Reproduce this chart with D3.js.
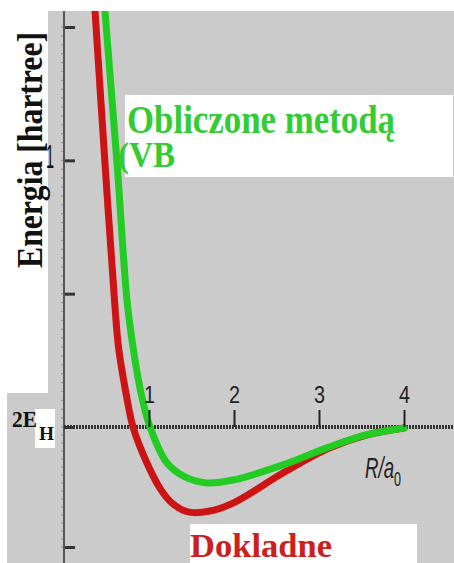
<!DOCTYPE html>
<html>
<head>
<meta charset="utf-8">
<script src="https://cdn.jsdelivr.net/npm/d3@7"></script>
<style>
  body { margin: 0; background: #fff; }
  svg { display: block; }
</style>
</head>
<body>
<div id="app"></div>
<script>
// R in units of a0, E in hartree relative to 2E_H
const exactR = [0.341, 0.365, 0.482, 0.594, 0.641, 0.729, 0.812, 0.976, 1.141, 1.271, 1.459, 1.718, 1.988, 2.576, 3.106, 3.565, 4.0];
const exactE = [1.676, 1.56, 0.99, 0.476, 0.30, 0.1275, 0, -0.15, -0.262, -0.317, -0.354, -0.35, -0.317, -0.192, -0.09, -0.033, -0.004];

const vbR = [0.459, 0.482, 0.624, 0.741, 0.812, 0.906, 1.012, 1.212, 1.424, 1.682, 1.988, 2.576, 3.106, 3.565, 4.0];
const vbE = [1.676, 1.56, 0.99, 0.476, 0.30, 0.1275, 0, -0.15, -0.208, -0.233, -0.221, -0.158, -0.085, -0.032, -0.004];

const xTicks = [1, 2, 3, 4];
const yTicks = [-0.5, 0, 0.5, 1, 1.5];
const yLabelled = [1];

const width = 454;
const height = 563;

const svg = d3
  .select('#app')
  .append('svg')
  .attr('width', width)
  .attr('height', height);

const grey = '#cbcbcb';
const green = '#22cc22';
const red = '#cc1414';

// background panels
svg.append('rect').attr('x', 48).attr('y', 11).attr('width', width - 48).attr('height', height - 11).attr('fill', grey);
svg.append('rect').attr('x', 7).attr('y', 393).attr('width', 42).attr('height', height - 393).attr('fill', grey);

const x = d3.scaleLinear().domain([0, 4]).range([64, 404]);
const y = d3.scaleLinear().domain([-0.5, 0, 1.5]).range([547, 427, 27]);

svg.append('clipPath').attr('id', 'plot')
  .append('rect').attr('x', 48).attr('y', 11).attr('width', width - 48).attr('height', height - 11);

// minor ticks on y axis
const minor = d3.range(-0.5, 1.5001, 0.5 / 15);
svg.append('g')
  .selectAll('line')
  .data(minor)
  .enter()
  .append('line')
  .attr('x1', 61)
  .attr('x2', 64)
  .attr('y1', (d) => y(d))
  .attr('y2', (d) => y(d))
  .attr('stroke', '#8a8a8a')
  .attr('stroke-width', 1);

// y axis
const yAxis = svg.append('g')
  .attr('transform', 'translate(64,0)')
  .call(d3.axisLeft(y).tickValues(yTicks).tickSize(-11).tickPadding(8)
    .tickFormat((d) => (yLabelled.includes(d) ? d3.format('d')(d) : '')));
yAxis.select('.domain').remove();
yAxis.append('line')
  .attr('y1', 11).attr('y2', height)
  .attr('stroke', '#555').attr('stroke-width', 2);
yAxis.selectAll('.tick line').attr('stroke', '#333').attr('stroke-width', 3);
yAxis.selectAll('.tick text')
  .attr('fill', '#111')
  .attr('font-family', 'Liberation Sans, Arial, sans-serif')
  .attr('font-size', 34)
  .attr('text-anchor', 'middle')
  .attr('x', -14)
  .attr('dy', '0.2em')
  .attr('textLength', 8)
  .attr('lengthAdjust', 'spacingAndGlyphs');

// 2E_H baseline (x axis)
svg.append('line')
  .attr('x1', 64).attr('x2', width)
  .attr('y1', y(0)).attr('y2', y(0))
  .attr('stroke', '#333')
  .attr('stroke-width', 4)
  .attr('stroke-dasharray', '2,1');

const line = d3.line()
  .x((d) => x(d[0]))
  .y((d) => y(d[1]))
  .curve(d3.curveCatmullRom.alpha(0.5));

const curves = svg.append('g').attr('clip-path', 'url(#plot)');
curves.append('path')
  .datum(d3.zip(exactR, exactE))
  .attr('d', line)
  .attr('fill', 'none')
  .attr('stroke', red)
  .attr('stroke-width', 7)
  .attr('stroke-linecap', 'round');
curves.append('path')
  .datum(d3.zip(vbR, vbE))
  .attr('d', line)
  .attr('fill', 'none')
  .attr('stroke', green)
  .attr('stroke-width', 7)
  .attr('stroke-linecap', 'round');

// x axis ticks above the baseline
const xAxis = svg.append('g')
  .attr('transform', `translate(0,${y(0)})`)
  .call(d3.axisTop(x).tickValues(xTicks).tickSize(17).tickPadding(7).tickFormat(d3.format('d')));
xAxis.select('.domain').remove();
xAxis.selectAll('.tick line').attr('stroke', '#222').attr('stroke-width', 2);
xAxis.selectAll('.tick text')
  .attr('fill', '#222')
  .attr('font-family', 'Liberation Sans, Arial, sans-serif')
  .attr('font-size', 24)
  .attr('textLength', 11)
  .attr('lengthAdjust', 'spacingAndGlyphs');

// R/a0 label
const rl = svg.append('text')
  .attr('x', 365).attr('y', 478)
  .attr('font-family', 'Liberation Sans, Arial, sans-serif')
  .attr('font-style', 'italic')
  .attr('font-size', 30)
  .attr('fill', '#222');
rl.append('tspan').text('R/a').attr('textLength', 29).attr('lengthAdjust', 'spacingAndGlyphs');
rl.append('tspan').text('0').attr('font-size', 20).attr('font-style', 'normal').attr('dy', 8)
  .attr('textLength', 7).attr('lengthAdjust', 'spacingAndGlyphs');

// 2E_H label
svg.append('rect').attr('x', 35).attr('y', 409).attr('width', 20).attr('height', 39).attr('fill', '#fff');
svg.append('text')
  .attr('x', 12).attr('y', 427)
  .attr('font-family', 'Liberation Serif, Times New Roman, serif')
  .attr('font-weight', 'bold')
  .attr('font-size', 23)
  .attr('fill', '#111')
  .attr('textLength', 25)
  .attr('lengthAdjust', 'spacingAndGlyphs')
  .text('2E');
svg.append('text')
  .attr('x', 39).attr('y', 440)
  .attr('font-family', 'Liberation Serif, Times New Roman, serif')
  .attr('font-weight', 'bold')
  .attr('font-size', 19)
  .attr('fill', '#111')
  .attr('textLength', 15)
  .attr('lengthAdjust', 'spacingAndGlyphs')
  .text('H');

// y axis title
svg.append('text')
  .attr('transform', 'translate(42,150) rotate(-90)')
  .attr('text-anchor', 'middle')
  .attr('font-family', 'Liberation Serif, Times New Roman, serif')
  .attr('font-weight', 'bold')
  .attr('font-size', 36)
  .attr('fill', '#111')
  .attr('textLength', 236)
  .attr('lengthAdjust', 'spacingAndGlyphs')
  .text('Energia [hartree]');

// VB label
svg.append('rect').attr('x', 125).attr('y', 95).attr('width', 328).attr('height', 82).attr('fill', '#fff');
svg.append('text')
  .attr('x', 127).attr('y', 133)
  .attr('font-family', 'Liberation Serif, Times New Roman, serif')
  .attr('font-weight', 'bold')
  .attr('font-size', 40)
  .attr('fill', '#33cc33')
  .attr('textLength', 268)
  .attr('lengthAdjust', 'spacingAndGlyphs')
  .text('Obliczone metodą');
svg.append('text')
  .attr('x', 118).attr('y', 167)
  .attr('font-family', 'Liberation Serif, Times New Roman, serif')
  .attr('font-weight', 'bold')
  .attr('font-size', 36)
  .attr('fill', '#33cc33')
  .attr('textLength', 57)
  .attr('lengthAdjust', 'spacingAndGlyphs')
  .text('(VB');

// exact label
svg.append('rect').attr('x', 190).attr('y', 524).attr('width', 227).attr('height', 39).attr('fill', '#fff');
svg.append('text')
  .attr('x', 190).attr('y', 557)
  .attr('font-family', 'Liberation Serif, Times New Roman, serif')
  .attr('font-weight', 'bold')
  .attr('font-size', 33)
  .attr('fill', '#cc2020')
  .attr('textLength', 142)
  .attr('lengthAdjust', 'spacingAndGlyphs')
  .text('Dokladne');
</script>
</body>
</html>
